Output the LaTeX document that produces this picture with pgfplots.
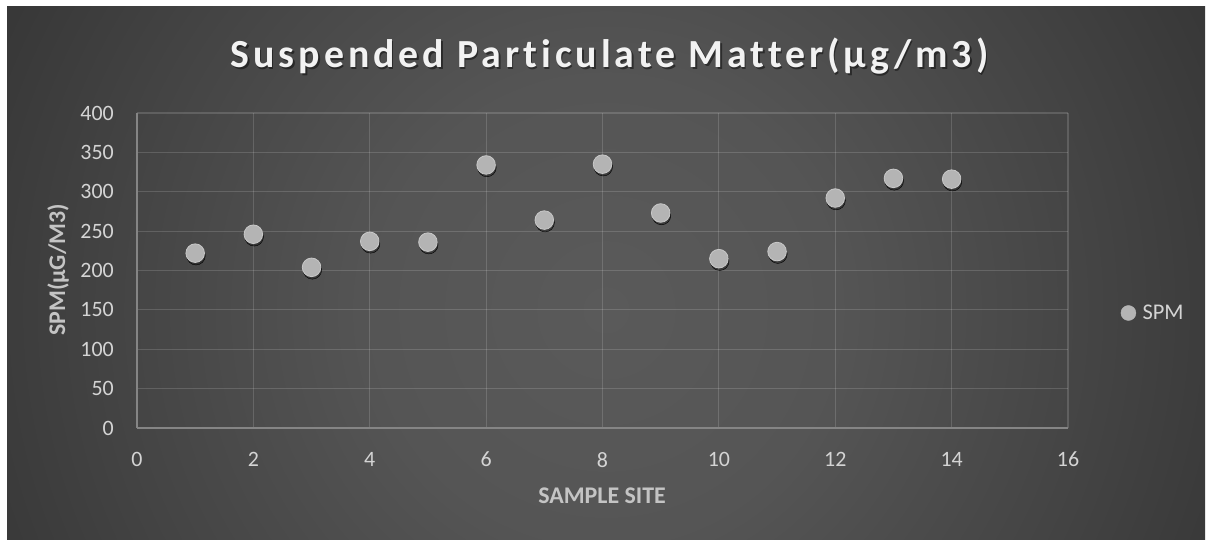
\documentclass[border=0pt]{standalone}
\usepackage{pgfplots}
\pgfplotsset{compat=1.18}
\usepackage{fontspec}
\setmainfont{Carlito}[Ligatures=CommonOff]
\newfontfamily\titlefam[LetterSpace=10,Ligatures=CommonOff]{Carlito}
\definecolor{bgA}{HTML}{5A5A5A}
\definecolor{bgB}{HTML}{555555}
\definecolor{bgC}{HTML}{444444}
\definecolor{bgD}{HTML}{343434}
\definecolor{bgE}{HTML}{2A2A2A}
\definecolor{bgF}{HTML}{262626}
\definecolor{tickc}{HTML}{D4D4D4}
\definecolor{labc}{HTML}{C4C4C4}
\definecolor{titlec}{HTML}{F2F2F2}
\definecolor{axisc}{HTML}{858585}
\definecolor{markc}{HTML}{B4B4B4}
\definecolor{markedge}{HTML}{C8C8C8}
\pgfdeclareradialshading{bgshade}{\pgfpoint{0bp}{0bp}}{color(0bp)=(bgA); color(8bp)=(bgB); color(17bp)=(bgC); color(25bp)=(bgD); color(34bp)=(bgE); color(50bp)=(bgF)}
\pgfplotstableread{
site spm
1 222
2 246
3 204
4 237
5 236
6 334
7 264
8 335
9 273
10 215
11 224
12 292
13 317
14 316
}\spmdata
\begin{document}
\begin{tikzpicture}[x=1bp,y=1bp]
\fill[white] (0,0) rectangle (1206,540);
\begin{scope}
\clip (7,0) rectangle (1205,533);
\shade[shading=bgshade] (-114,-490) rectangle (1326,950);
\end{scope}
\node[anchor=base, text=black, opacity=0.45, font=\titlefam\bfseries\fontsize{40}{48}\selectfont, inner sep=0pt] at (611,470) {Suspended Particulate Matter(µg/m3)};
\node[anchor=base, text=titlec, font=\titlefam\bfseries\fontsize{40}{48}\selectfont, inner sep=0pt] at (609.5,472) {Suspended Particulate Matter(µg/m3)};
\begin{axis}[
  at={(137bp,112bp)}, anchor=south west, scale only axis,
  width=931bp, height=315bp,
  xmin=0, xmax=16, ymin=0, ymax=400,
  xtick={0,2,...,16}, ytick={0,50,...,400},
  major tick length=0pt,
  axis lines*=left,
  axis line style={-, draw=axisc, line width=1.5bp},
  grid=major,
  major grid style={draw=white, opacity=0.15, line width=1.2bp},
  tick label style={font=\fontsize{22}{26}\selectfont, text=tickc},
  /pgf/number format/assume math mode=true,
  yticklabel style={anchor=east, inner sep=0pt, xshift=-23bp},
  xticklabel style={anchor=north, inner sep=0pt, yshift=-24bp},
  legend style={at={(1.0564,0.3651)}, anchor=west, draw=none, fill=none,
    font=\fontsize{22.5}{26}\selectfont, text=tickc, inner sep=0pt,
    /tikz/every odd column/.append style={column sep=4.5bp}},
  legend cell align=left,
  legend image code/.code={\fill[markc] (7.5bp,0bp) circle (7.5bp);},
  clip=false,
]
\addplot[only marks, mark=*, mark size=9.3bp,
  mark options={draw=none, fill=black, fill opacity=0.3, xshift=0.8bp, yshift=-2.5bp},
  forget plot] table[x=site, y=spm] {\spmdata};
\addplot[only marks, mark=*, mark size=9.3bp,
  mark options={fill=markc, draw=markedge, line width=0.8bp}] table[x=site, y=spm] {\spmdata};
\addlegendentry{SPM}
\end{axis}
\node[rotate=90, anchor=base, text=labc, font=\bfseries\fontsize{24}{28}\selectfont] at (65,270) {SPM(µG/M3)};
\node[anchor=base, text=labc, font=\bfseries\fontsize{24}{28}\selectfont] at (602,36) {SAMPLE SITE};
\pgfresetboundingbox
\useasboundingbox (0,0) rectangle (1206,540);
\end{tikzpicture}
\end{document}
